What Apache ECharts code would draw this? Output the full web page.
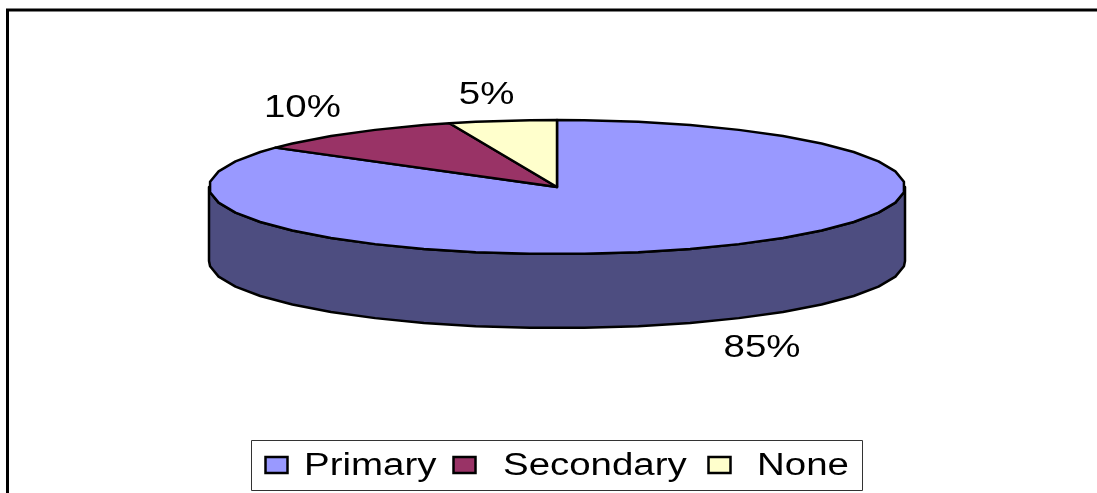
<!DOCTYPE html>
<html><head><meta charset="utf-8">
<style>html,body{margin:0;padding:0;background:#fff}#c{width:1097px;height:493px}</style>
<script src="https://cdn.jsdelivr.net/npm/echarts@6/dist/echarts.min.js"></script>
</head><body><div id="c"></div>
<script>
const categories = ['Primary', 'Secondary', 'None'];
const shares = [85, 10, 5];
const palette = ['#9999FF', '#993366', '#FFFFCC'];
const wallColors = ['#4D4D80', '#4D1A33', '#808066'];

const FONT = '31px "Liberation Sans", Arial, sans-serif';
const STRETCH = 1.24;
const CX = 557, CY = 187, RX = 348, RY = 67, DEPTH = 74;
const STEP = 9;
const total = shares.reduce((a, b) => a + b, 0);
const labelNudge = [[47, 28], [-50, -24], [-16, -25]];

function rim(deg, drop) {
  const r = deg * Math.PI / 180;
  return [CX + RX * Math.sin(r), CY - RY * Math.cos(r) + (drop || 0)];
}
function arc(a0, a1, drop) {
  const pts = [rim(a0, drop)];
  for (let d = STEP / 2; d < 360; d += STEP) if (d > a0 && d < a1) pts.push(rim(d, drop));
  pts.push(rim(a1, drop));
  return pts;
}
function renderSlice(params, api) {
  const i = params.dataIndex;
  const before = shares.slice(0, i).reduce((a, b) => a + b, 0);
  const a0 = before / total * 360;
  const a1 = a0 + api.value(0) / total * 360;
  const children = [];
  const w0 = Math.max(a0, 90), w1 = Math.min(a1, 270);
  if (w0 < w1) {
    children.push({
      type: 'polygon',
      shape: { points: arc(w0, w1, 0).concat(arc(w0, w1, DEPTH).reverse()) },
      style: { fill: wallColors[i], stroke: '#000', lineWidth: 2.5, lineJoin: 'round' }
    });
  }
  children.push({
    type: 'polygon',
    shape: { points: [[CX, CY]].concat(arc(a0, a1, 0)) },
    style: { fill: palette[i], stroke: '#000', lineWidth: 2.5, lineJoin: 'round' }
  });
  const midA = (a0 + a1) / 2;
  const mid = rim(midA, midA > 90 && midA < 270 ? DEPTH : 0);
  children.push({
    type: 'text', x: mid[0] + labelNudge[i][0], y: mid[1] + labelNudge[i][1], scaleX: STRETCH,
    style: { text: api.value(0) + '%', font: FONT, fill: '#000', align: 'center', verticalAlign: 'middle' }
  });
  return { type: 'group', children };
}

const legendIconX = [265.5, 453.5, 708.5];
const legendTextX = [304, 503, 757];
const legendGraphics = [
  { type: 'rect', shape: { x: 251.5, y: 440.5, width: 611, height: 50 }, style: { fill: '#fff', stroke: '#333', lineWidth: 1 } }
];
categories.forEach((name, i) => {
  legendGraphics.push({ type: 'rect', shape: { x: legendIconX[i], y: 457, width: 22, height: 16 }, style: { fill: palette[i], stroke: '#000', lineWidth: 2.5 } });
  legendGraphics.push({ type: 'text', x: legendTextX[i], y: 466, scaleX: STRETCH,
    style: { text: name, font: FONT, fill: '#000', align: 'left', verticalAlign: 'middle' } });
});

const chart = echarts.init(document.getElementById('c'), null, { renderer: 'canvas' });
chart.setOption({
  animation: false,
  backgroundColor: '#fff',
  graphic: [
    { type: 'polyline', z: 0, shape: { points: [[7.5, 500], [7.5, 10], [1100, 10]] }, style: { fill: null, stroke: '#000', lineWidth: 3, lineJoin: 'miter' } },
    { type: 'group', z: 10, children: legendGraphics }
  ],
  series: [{
    type: 'custom',
    coordinateSystem: 'none',
    name: 'Share',
    data: shares.map((v, i) => ({ name: categories[i], value: [v] })),
    renderItem: renderSlice,
    silent: true
  }]
});
</script></body></html>
